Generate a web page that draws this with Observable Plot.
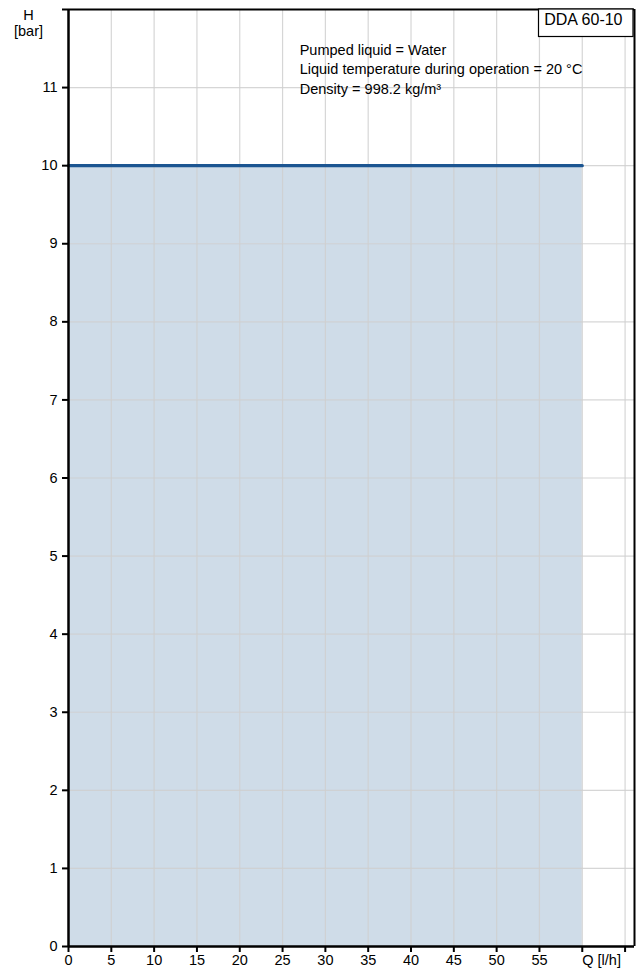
<!DOCTYPE html>
<html>
<head>
<meta charset="utf-8">
<script src="https://cdn.jsdelivr.net/npm/d3@7"></script>
<script src="https://cdn.jsdelivr.net/npm/@observablehq/plot@0.6"></script>
<style>
  html, body { margin: 0; padding: 0; background: #fff; }
  svg { display: block; font-family: "Liberation Sans", Arial, sans-serif; }
</style>
</head>
<body>
<div id="chart"></div>
<script>
// ---- data ----
const flowQ = [0, 60];          // Q [l/h]
const headH = [10, 10];         // H [bar]
const xTicks = [0, 5, 10, 15, 20, 25, 30, 35, 40, 45, 50, 55, 60, 65];
const xTickLabels = ["0", "5", "10", "15", "20", "25", "30", "35", "40", "45", "50", "55", "", ""];
const yTicks = [0, 1, 2, 3, 4, 5, 6, 7, 8, 9, 10, 11, 12];
const yTickLabels = ["0", "1", "2", "3", "4", "5", "6", "7", "8", "9", "10", "11", ""];
const xGrid = [5, 10, 15, 20, 25, 30, 35, 40, 45, 50, 55, 60, 65];
const yGrid = [1, 2, 3, 4, 5, 6, 7, 8, 9, 10, 11];
const xUnitLabel = "Q [l/h]";
const yUnitLabel = ["H", "[bar]"];
const pumpName = "DDA 60-10";
const infoLines = [
  "Pumped liquid = Water",
  "Liquid temperature during operation = 20 °C",
  "Density = 998.2 kg/m³"
];
const xDomain = [0, 66.1];
const yDomain = [0, 12];

const curve = flowQ.map((q, i) => ({q, h: headH[i]}));
const font = "Liberation Sans, Arial, sans-serif";

const chart = Plot.plot({
  width: 636,
  height: 969,
  marginLeft: 68,
  marginRight: 2,
  marginTop: 9,
  marginBottom: 23,
  style: {fontFamily: font, fontSize: "14.5px", color: "#000", background: "#fff"},
  x: {domain: xDomain},
  y: {domain: yDomain},
  marks: [
    Plot.areaY(curve, {x: "q", y: "h", fill: "#cfdce8"}),
    Plot.ruleX(xGrid, {stroke: "#cfcfcf", strokeWidth: 1.2, strokeOpacity: 0.85}),
    Plot.ruleY(yGrid, {stroke: "#cfcfcf", strokeWidth: 1.2, strokeOpacity: 0.85}),
    Plot.lineY(curve, {x: "q", y: "h", stroke: "#1b5591", strokeWidth: 3.2}),
    Plot.axisX({
      ticks: xTicks, tickSize: 6, tickPadding: 2, strokeWidth: 2, label: null,
      tickFormat: (d) => xTickLabels[xTicks.indexOf(d)], fontSize: 14.5
    }),
    Plot.axisY({
      ticks: yTicks, tickSize: 6, tickPadding: 5, strokeWidth: 2, label: null,
      tickFormat: (d) => yTickLabels[yTicks.indexOf(d)], fontSize: 14.5
    }),
    Plot.ruleX([xDomain[0]], {stroke: "#000", strokeWidth: 2.5}),
    Plot.ruleY([yDomain[0]], {stroke: "#000", strokeWidth: 2.5}),
    Plot.ruleX([xDomain[1]], {stroke: "#000", strokeWidth: 2}),
    Plot.ruleY([yDomain[1]], {stroke: "#000", strokeWidth: 2}),
    Plot.text([xUnitLabel], {x: 60, y: 0, text: d => d, textAnchor: "start", lineAnchor: "top", dy: 8, fontSize: 14.5}),
    Plot.text([yUnitLabel.join("\n")], {x: 0, y: 12, text: d => d, textAnchor: "middle", lineAnchor: "top", dx: -40, dy: 0, fontSize: 14.5, lineHeight: 1.05}),
    Plot.text([infoLines.join("\n")], {x: 27, y: 12, text: d => d, textAnchor: "start", lineAnchor: "top", dy: 31, fontSize: 14.5, lineHeight: 1.36}),
    Plot.text([pumpName], {frameAnchor: "top-right", text: d => d, textAnchor: "end", lineAnchor: "top", dx: -12, dy: 4, fontSize: 16, className: "pump-name"})
  ]
});

document.getElementById("chart").appendChild(chart);

// draw a box around the pump name label (frame-aligned on top and right)
const markG = chart.querySelector("g.pump-name");
const lbl = chart.querySelector(".pump-name text");
if (markG && lbl) {
  const sb = chart.getBoundingClientRect();
  const tb = lbl.getBoundingClientRect();
  const r = document.createElementNS("http://www.w3.org/2000/svg", "rect");
  const x0 = Math.round(tb.left - sb.left) - 5.5;
  const y0 = 9;
  const x1 = 636 - 3;
  const y1 = Math.round(tb.bottom - sb.top) + 8.5;
  r.setAttribute("x", x0);
  r.setAttribute("y", y0);
  r.setAttribute("width", x1 - x0);
  r.setAttribute("height", y1 - y0);
  r.setAttribute("fill", "#fff");
  r.setAttribute("stroke", "#000");
  r.setAttribute("stroke-width", 1.2);
  markG.parentNode.insertBefore(r, markG);
}
</script>
</body>
</html>
